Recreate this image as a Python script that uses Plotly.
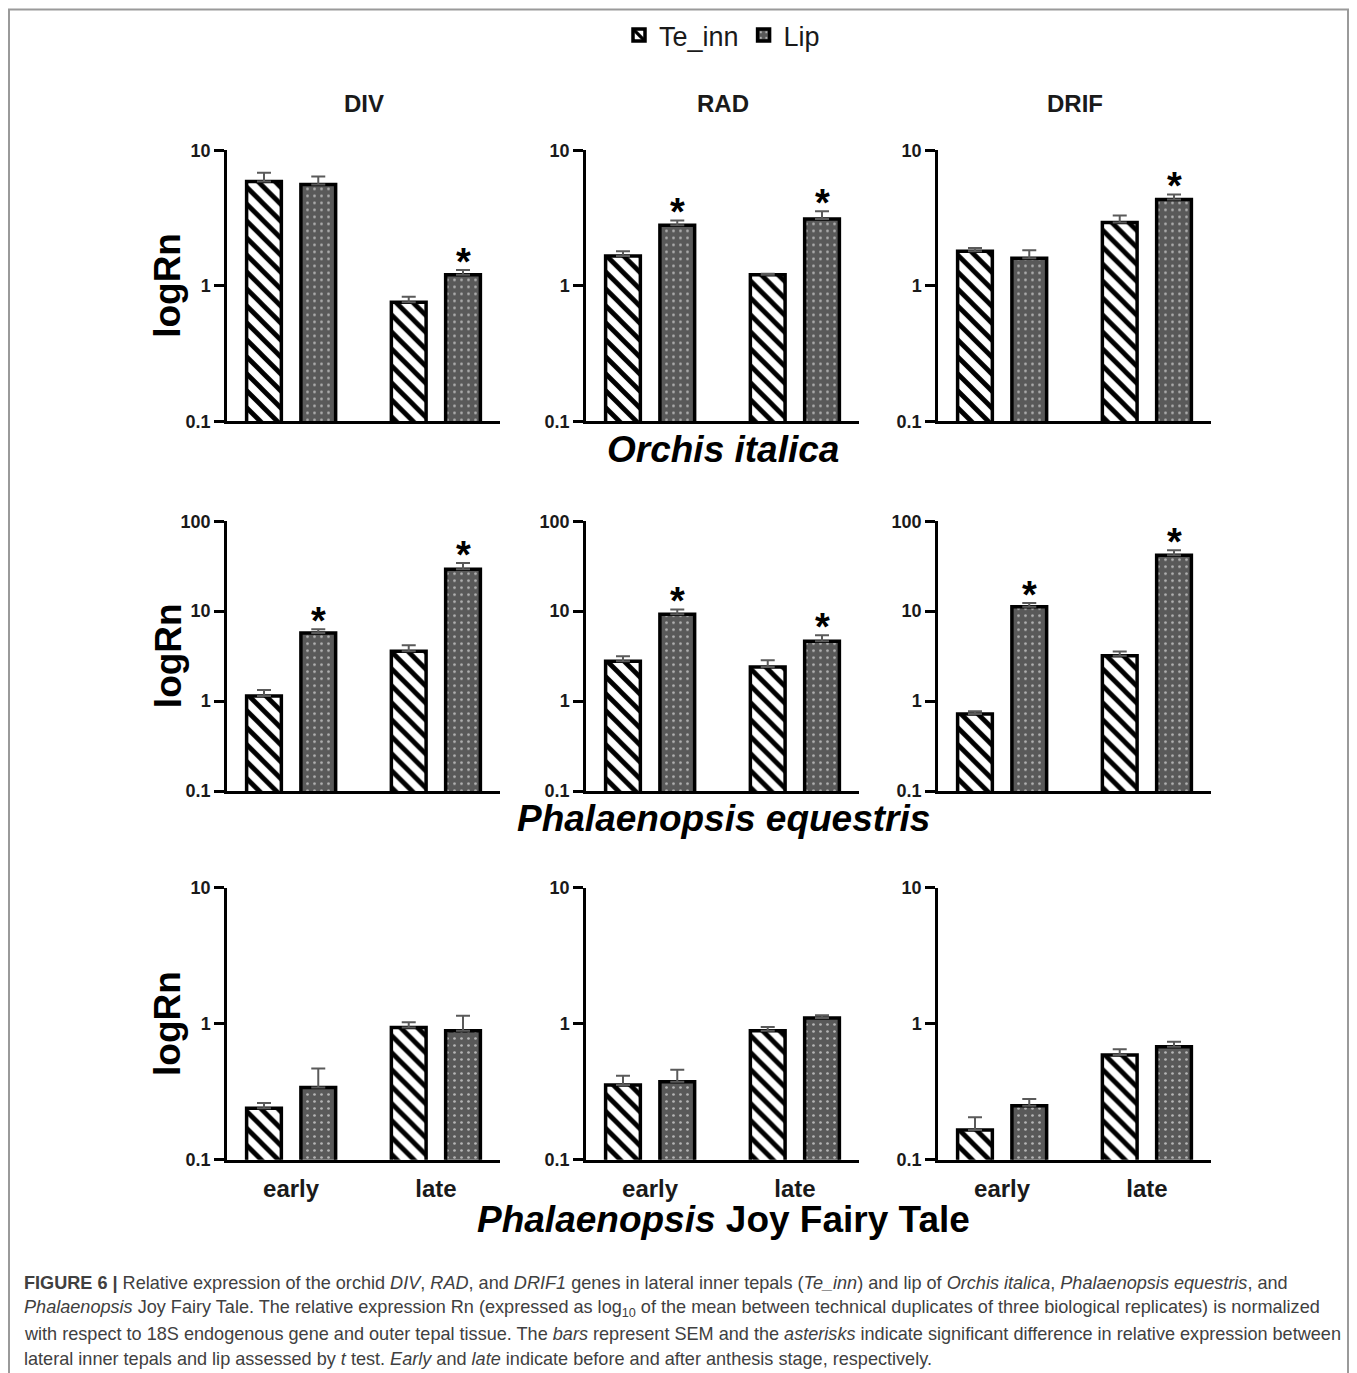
import math
import plotly.graph_objects as go

# figure placement on the photographed page (measured): x_page = fx + 8,
# y_page = 0.986 * fy + 17.5
X_OFF = 8
Y_OFF, Y_SCALE = 17.5, 0.986
W, H = 1341, 1373


def PX(x):
    return (x - X_OFF) / W


def PY(y):
    return 1 - ((y - Y_OFF) / Y_SCALE) / H


stages = ["early", "late"]
genes = ["DIV", "RAD", "DRIF"]
species = ["Orchis italica", "Phalaenopsis equestris", "Phalaenopsis Joy Fairy Tale"]

# values [species][gene] -> [early, late]
te_inn = [
    [[5.9, 0.755], [1.66, 1.21], [1.80, 2.94]],
    [[1.14, 3.59], [2.78, 2.39], [0.72, 3.19]],
    [[0.24, 0.94], [0.356, 0.889], [0.166, 0.59]],
]
te_inn_err = [
    [[0.94, 0.075], [0.14, 0.02], [0.10, 0.37]],
    [[0.19, 0.60], [0.38, 0.46], [0.05, 0.38]],
    [[0.022, 0.09], [0.06, 0.06], [0.04, 0.06]],
]
lip = [
    [[5.61, 1.21], [2.80, 3.11], [1.60, 4.35]],
    [[5.7, 29.3], [9.26, 4.64], [11.2, 41.9]],
    [[0.34, 0.889], [0.375, 1.107], [0.25, 0.678]],
]
lip_err = [
    [[0.80, 0.10], [0.24, 0.44], [0.23, 0.38]],
    [[0.60, 5.0], [1.2, 0.77], [1.1, 5.7]],
    [[0.13, 0.26], [0.085, 0.05], [0.03, 0.06]],
]
# significance asterisks on Lip bars
lip_sig = [
    [[False, True], [True, True], [False, True]],
    [[True, True], [True, True], [True, True]],
    [[False, False], [False, False], [False, False]],
]
y_ticks = [[0.1, 1, 10], [0.1, 1, 10, 100], [0.1, 1, 10]]
y_ticktext = [["0.1", "1", "10"], ["0.1", "1", "10", "100"], ["0.1", "1", "10"]]
y_log_range = [[-1, 1], [-1, 2], [-1, 1]]

# layout geometry (page pixels, as in the reference)
col_px = [(227, 500), (586, 859), (938, 1211)]
row_px = [(150, 421), (521, 791), (888, 1160)]
x_range = [-0.443, 1.443]
bargap, bargroupgap = 0.25, 0.36

FONT = "Liberation Sans, Arial, sans-serif"

fig = go.Figure()

te_pattern = dict(shape="\\", bgcolor="white", fgcolor="black", size=12, solidity=0.4, fillmode="replace")
lip_pattern = dict(shape=".", bgcolor="#595959", fgcolor="#b5b5b5", size=7, solidity=0.12, fillmode="replace")

annotations = []
layout_axes = {}
for r in range(3):
    for c in range(3):
        idx = r * 3 + c + 1
        xa = f"x{idx}" if idx > 1 else "x"
        ya = f"y{idx}" if idx > 1 else "y"
        first = (idx == 1)
        fig.add_trace(go.Bar(
            x=stages, y=te_inn[r][c], name="Te_inn", legendgroup="te", showlegend=first,
            xaxis=xa, yaxis=ya, offsetgroup="te",
            marker=dict(color="white", line=dict(color="black", width=3.5), pattern=te_pattern),
            error_y=dict(type="data", array=te_inn_err[r][c], arrayminus=[0, 0], symmetric=False,
                         color="#5a5a5a", thickness=2, width=7),
        ))
        fig.add_trace(go.Bar(
            x=stages, y=lip[r][c], name="Lip", legendgroup="lip", showlegend=first,
            xaxis=xa, yaxis=ya, offsetgroup="lip",
            marker=dict(color="#595959", line=dict(color="black", width=3.5), pattern=lip_pattern),
            error_y=dict(type="data", array=lip_err[r][c], arrayminus=[0, 0], symmetric=False,
                         color="#5a5a5a", thickness=2, width=7),
        ))
        x0, x1 = col_px[c]
        y0, y1 = row_px[r]
        layout_axes[f"xaxis{idx}" if idx > 1 else "xaxis"] = dict(
            domain=[PX(x0), PX(x1)], anchor=ya, type="category", categoryorder="array",
            categoryarray=stages, range=x_range, showline=True, linecolor="black", linewidth=2.5,
            ticks="", showgrid=False, zeroline=False, showticklabels=(r == 2),
            tickfont=dict(family=FONT, size=24, color="#1a1a1a", weight="bold"),
            ticklabelstandoff=6,
        )
        layout_axes[f"yaxis{idx}" if idx > 1 else "yaxis"] = dict(
            domain=[PY(y1), PY(y0)], anchor=xa, type="log", range=y_log_range[r],
            showline=True, linecolor="black", linewidth=2.5, ticks="outside", ticklen=10,
            tickwidth=2.5, tickcolor="black", tickvals=y_ticks[r], ticktext=y_ticktext[r],
            showgrid=False, zeroline=False,
            tickfont=dict(family=FONT, size=18, color="#1a1a1a", weight="bold"),
        )
        # asterisks above significant Lip bars
        group_w = 1 - bargap
        offset_units = group_w / 4
        px_per_unit = (x1 - x0) / (x_range[1] - x_range[0])
        for k, st in enumerate(stages):
            if lip_sig[r][c][k]:
                annotations.append(dict(
                    x=st, y=math.log10(lip[r][c][k] + lip_err[r][c][k]), xref=xa, yref=ya,
                    xshift=offset_units * px_per_unit, yanchor="bottom", yshift=-15,
                    text="<b>*</b>", showarrow=False,
                    font=dict(family=FONT, size=38, color="black"),
                ))

# column titles
for c, g in enumerate(genes):
    x0, x1 = col_px[c]
    annotations.append(dict(x=PX((x0 + x1) / 2), y=PY(103), xref="paper", yref="paper",
                            text=f"<b>{g}</b>", showarrow=False, xanchor="center", yanchor="middle",
                            font=dict(family=FONT, size=24, color="#1a1a1a")))
# species titles
sp_y = [449, 818, 1220]
sp_text = ["<b><i>Orchis italica</i></b>", "<b><i>Phalaenopsis equestris</i></b>",
           "<b><i>Phalaenopsis</i> Joy Fairy Tale</b>"]
for t, yy in zip(sp_text, sp_y):
    annotations.append(dict(x=PX(723), y=PY(yy), xref="paper", yref="paper", text=t,
                            showarrow=False, xanchor="center", yanchor="middle",
                            font=dict(family=FONT, size=37, color="black")))
# y-axis titles
for r in range(3):
    y0, y1 = row_px[r]
    annotations.append(dict(x=PX(168), y=PY((y0 + y1) / 2), xref="paper", yref="paper",
                            text="<b>logRn</b>", textangle=-90, showarrow=False,
                            xanchor="center", yanchor="middle",
                            font=dict(family=FONT, size=37, color="black")))

# caption
caption = [
    "<b>FIGURE 6 |</b> Relative expression of the orchid <i>DIV</i>, <i>RAD</i>, and <i>DRIF1</i> genes in lateral inner tepals (<i>Te_inn</i>) and lip of <i>Orchis italica</i>, <i>Phalaenopsis equestris</i>, and",
    "<i>Phalaenopsis</i> Joy Fairy Tale. The relative expression Rn (expressed as log<sub>10</sub> of the mean between technical duplicates of three biological replicates) is normalized",
    "with respect to 18S endogenous gene and outer tepal tissue. The <i>bars</i> represent SEM and the <i>asterisks</i> indicate significant difference in relative expression between",
    "lateral inner tepals and lip assessed by <i>t</i> test. <i>Early</i> and <i>late</i> indicate before and after anthesis stage, respectively.",
]
cap_y = [1283, 1308.5, 1334, 1359]
for t, yy in zip(caption, cap_y):
    annotations.append(dict(x=PX(22), y=PY(yy), xref="paper", yref="paper", text=t,
                            showarrow=False, xanchor="left", yanchor="middle", align="left",
                            font=dict(family=FONT, size=18.1, color="#404040")))

shapes = [dict(type="rect", xref="paper", yref="paper", x0=PX(9), x1=PX(1348), y0=-0.05, y1=PY(9),
               line=dict(color="#9a9a9a", width=2), fillcolor="rgba(0,0,0,0)")]

fig.update_layout(
    width=W, height=H, margin=dict(l=0, r=0, t=0, b=0),
    paper_bgcolor="white", plot_bgcolor="white",
    barmode="group", bargap=bargap, bargroupgap=bargroupgap,
    showlegend=True,
    legend=dict(orientation="h", x=PX(722), y=PY(35), xanchor="center", yanchor="middle",
                font=dict(family=FONT, size=27, color="#1a1a1a"), bgcolor="rgba(0,0,0,0)",
                itemwidth=30, tracegroupgap=0),
    annotations=annotations, shapes=shapes,
    **layout_axes,
)

fig.write_html("out.html")
